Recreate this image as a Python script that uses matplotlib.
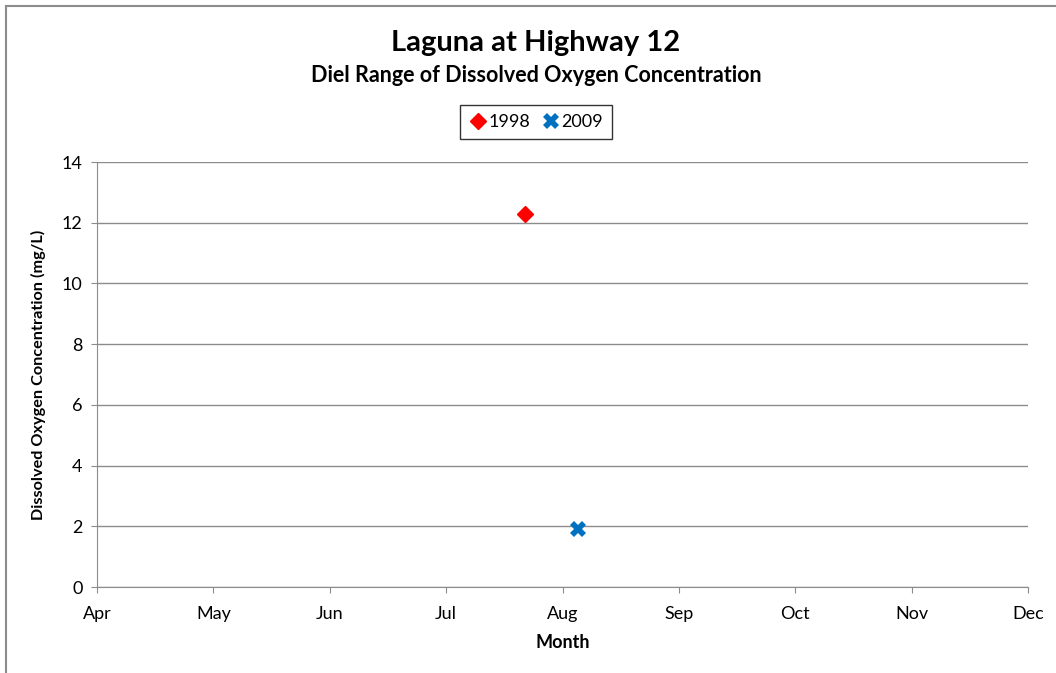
import matplotlib
matplotlib.use("Agg")
import matplotlib.pyplot as plt
from matplotlib.patches import Rectangle
import calendar

plt.rcParams['font.family'] = ['Lato', 'DejaVu Sans']

# Data
month_labels = ["Apr", "May", "Jun", "Jul", "Aug", "Sep", "Oct", "Nov", "Dec"]
series_1998_dates = [(7, 22)]   # (month, day)
series_1998_values = [12.3]
series_2009_dates = [(8, 5)]
series_2009_values = [1.9]
y_ticks = [0, 2, 4, 6, 8, 10, 12, 14]

def month_pos(md, year):
    m, d = md
    ndays = calendar.monthrange(year, m)[1]
    return (m - 4) + (d - 1) / ndays

fig = plt.figure(figsize=(10.56, 6.73), dpi=100)
ax = fig.add_axes([97/1056, 1 - 587/673, 931/1056, 425/673])

# outer border
fig.patches.append(Rectangle((6/1056, -0.1), 1.2, 1 - 6/673 + 0.1, transform=fig.transFigure,
                             fill=False, edgecolor='#8c8c8c', linewidth=1.5))

grid_c = '#8c8c8c'
x98 = [month_pos(md, 1998) for md in series_1998_dates]
x09 = [month_pos(md, 2009) for md in series_2009_dates]
ax.plot(x98, series_1998_values, linestyle='none', marker='D', markersize=8,
        color='#ff0000', label='1998', zorder=3)
ax.plot(x09, series_2009_values, linestyle='none', marker='X', markersize=11,
        color='#0070c0', markeredgewidth=0, label='2009', zorder=3)

ax.set_xlim(0, len(month_labels) - 1)
ax.set_ylim(0, 14)
ax.set_xticks(range(len(month_labels)))
ax.set_xticklabels(month_labels)
ax.set_yticks(y_ticks)
ax.yaxis.grid(True, color=grid_c, linewidth=1)
ax.set_axisbelow(True)
for s in ['top', 'right']:
    ax.spines[s].set_visible(False)
for s in ['left', 'bottom']:
    ax.spines[s].set_color(grid_c)
ax.tick_params(axis='both', direction='out', length=4.5, color=grid_c, labelsize=13)
ax.tick_params(axis='x', pad=9)
ax.tick_params(axis='y', pad=6)

ax.set_xlabel('Month', fontsize=13, fontweight='bold', labelpad=9)
ax.set_ylabel('Dissolved Oxygen Concentration (mg/L)', fontsize=11.7, fontweight='bold', labelpad=11)

fig.text(536/1056, 1 - 43/673, 'Laguna at Highway 12', ha='center', va='center',
         fontsize=21, fontweight='bold')
fig.text(536/1056, 1 - 76/673, 'Diel Range of Dissolved Oxygen Concentration', ha='center',
         va='center', fontsize=15.5, fontweight='bold')

leg = fig.legend(loc='center', bbox_to_anchor=(536/1056, 1 - 122/673), ncol=2, frameon=True,
                 fontsize=13, handletextpad=0.1, columnspacing=0.6, handlelength=1.0,
                 borderpad=0.5, fancybox=False)
leg.get_frame().set_edgecolor('black')
leg.get_frame().set_linewidth(1)

fig.savefig('out.png', dpi=100)
